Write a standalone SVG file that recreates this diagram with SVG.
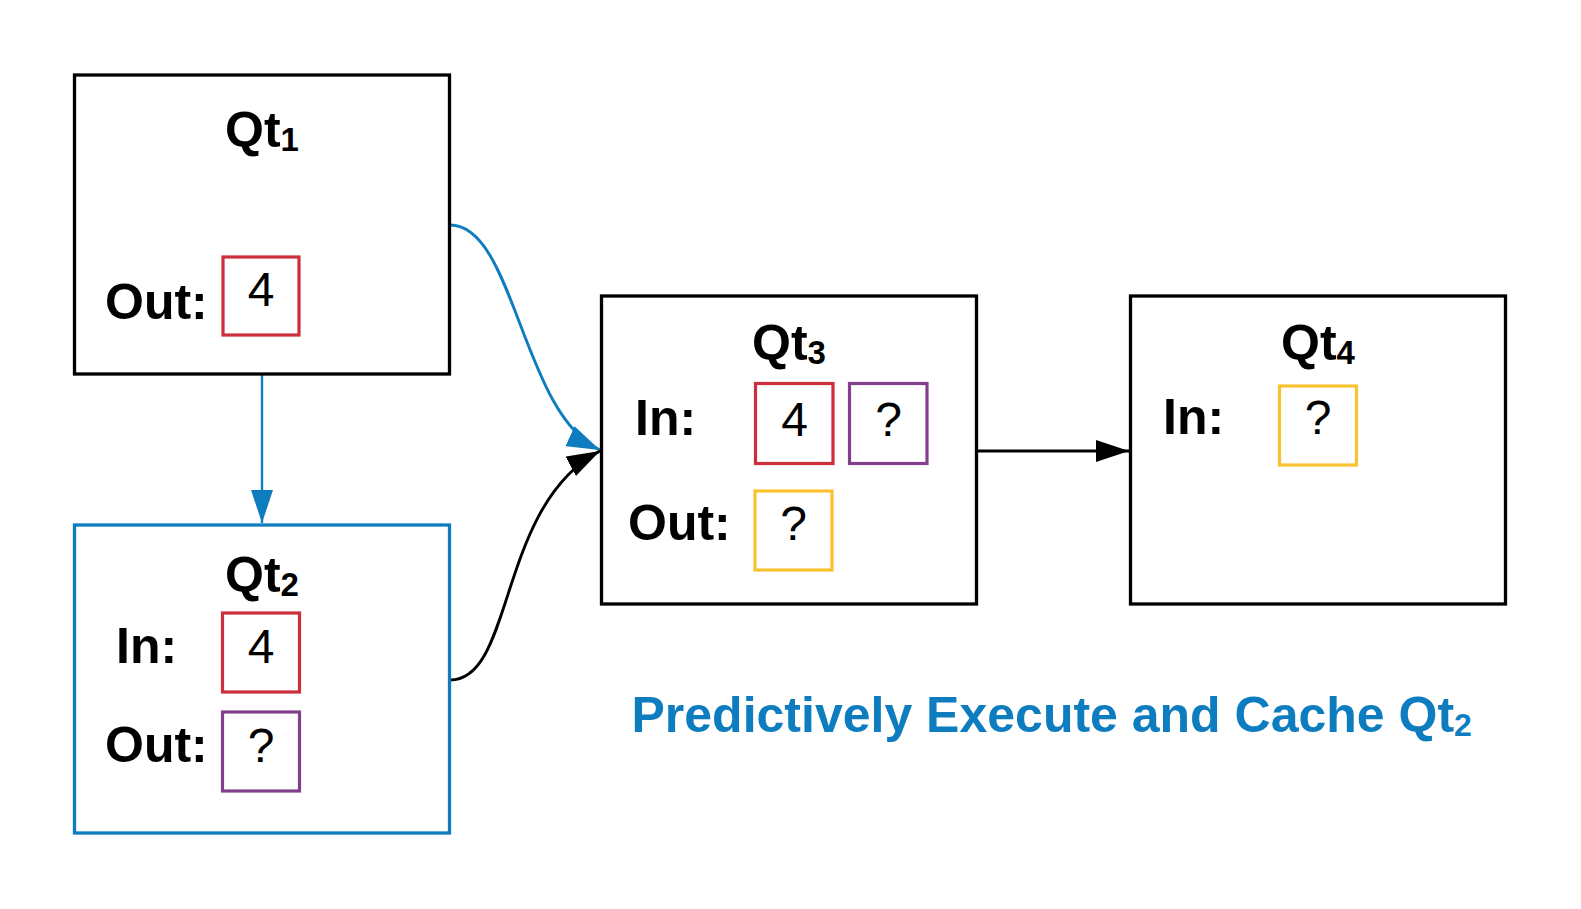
<svg xmlns="http://www.w3.org/2000/svg" width="1581" height="909" viewBox="0 0 1581 909">
<style>
.box{fill:#fff;stroke:#000;stroke-width:3.3}
.blue{stroke:#0e7dc0}
.lbl{font-family:"Liberation Sans",Arial,sans-serif;font-weight:bold;font-size:50px;fill:#000}
.ttl{font-family:"Liberation Sans",Arial,sans-serif;font-weight:bold;font-size:50px;fill:#000;text-anchor:middle}
.sub{font-size:33px}
.val{font-family:"Liberation Sans",Arial,sans-serif;font-size:48px;fill:#000;text-anchor:middle}
.vb{fill:none;stroke-width:3.2}
.red{stroke:#cc2e3c}
.pur{stroke:#823f8b}
.yel{stroke:#f8c230}
.cb{fill:none;stroke:#0e7dc0;stroke-width:2.9}
.ck{fill:none;stroke:#000;stroke-width:2.9}
.cap{font-family:"Liberation Sans",Arial,sans-serif;font-weight:bold;font-size:50px;fill:#0e7dc0}
</style>
<defs>
<marker id="ab" markerUnits="userSpaceOnUse" markerWidth="34" markerHeight="22" refX="33" refY="11" orient="auto" viewBox="0 0 34 22">
<path d="M0,0 L33,11 L0,22 z" fill="#0e7dc0"/>
</marker>
<marker id="ak" markerUnits="userSpaceOnUse" markerWidth="34" markerHeight="22" refX="33" refY="11" orient="auto" viewBox="0 0 34 22">
<path d="M0,0 L33,11 L0,22 z" fill="#000"/>
</marker>
</defs>
<rect width="1581" height="909" fill="#fff"/>

<g id="connectors">
<path class="cb" d="M262,375 L262,523" marker-end="url(#ab)" style="stroke-width:2.4"/>
<path class="cb" d="M450,225 C515,225 521.8,414.1 600,450" marker-end="url(#ab)"/>
<path class="ck" d="M450,680 C515,680 497.2,504.8 600,451" marker-end="url(#ak)"/>
<path class="ck" d="M977,451 L1129,451" marker-end="url(#ak)" style="stroke-width:3.2"/>
</g>

<g id="qt1">
<rect class="box" x="74.5" y="75" width="375" height="299"/>
<text class="ttl" x="262" y="147">Qt<tspan class="sub" dy="4">1</tspan></text>
<text class="lbl" x="105" y="319">Out:</text>
<rect class="vb red" x="223" y="257" width="76" height="78"/>
<text class="val" x="261" y="306">4</text>
</g>

<g id="qt2">
<rect class="box blue" x="74.5" y="525" width="375" height="308"/>
<text class="ttl" x="262" y="592">Qt<tspan class="sub" dy="4">2</tspan></text>
<text class="lbl" x="116" y="663">In:</text>
<rect class="vb red" x="222.5" y="613" width="77" height="79"/>
<text class="val" x="261" y="663">4</text>
<text class="lbl" x="105" y="762">Out:</text>
<rect class="vb pur" x="222.5" y="712" width="77" height="79"/>
<text class="val" x="261" y="762">?</text>
</g>

<g id="qt3">
<rect class="box" x="601.5" y="296" width="375" height="308"/>
<text class="ttl" x="789" y="360">Qt<tspan class="sub" dy="4">3</tspan></text>
<text class="lbl" x="635" y="435">In:</text>
<rect class="vb red" x="755.5" y="383.5" width="77.5" height="80"/>
<text class="val" x="794.5" y="436">4</text>
<rect class="vb pur" x="849.5" y="383.5" width="77.5" height="80"/>
<text class="val" x="888.5" y="436">?</text>
<text class="lbl" x="628" y="540">Out:</text>
<rect class="vb yel" x="755" y="491" width="77" height="79"/>
<text class="val" x="793.5" y="540">?</text>
</g>

<g id="qt4">
<rect class="box" x="1130.5" y="296" width="375" height="308"/>
<text class="ttl" x="1318" y="360">Qt<tspan class="sub" dy="4">4</tspan></text>
<text class="lbl" x="1163" y="434">In:</text>
<rect class="vb yel" x="1279.5" y="386" width="77" height="79"/>
<text class="val" x="1318" y="434">?</text>
</g>

<g id="caption">
<text class="cap" x="631.5" y="732">Predictively Execute and Cache Qt<tspan class="sub" style="font-size:32px" dy="4">2</tspan></text>
</g>
</svg>
